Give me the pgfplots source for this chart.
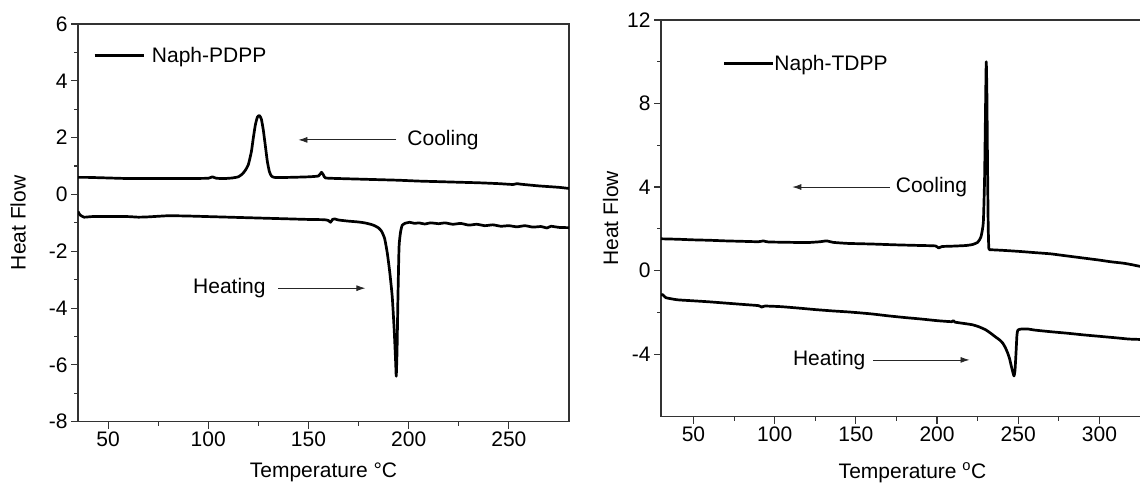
\documentclass[border=0pt]{standalone}
\usepackage{pgfplots}
\pgfplotsset{compat=1.18}
\usepackage{fontspec}
\setmainfont{Liberation Sans}
\usetikzlibrary{arrows.meta}
\newcommand{\fs}{\fontsize{21}{25}\selectfont}
\tikzset{arr/.style={-{Latex[length=9pt,width=6pt]}, line width=0.8pt, black!85}}
\pgfplotsset{
  dsc/.style={
    scale only axis,
    anchor=south west,
    font=\fs,
    tick label style={font=\fs},
    label style={font=\fs},
    /pgf/number format/assume math mode=true,
    tick align=outside, xtick pos=bottom, ytick pos=left,
    major tick length=7pt, minor tick length=4pt,
    axis line style={line width=1.3pt, black!80},
    every tick/.style={line width=1.1pt, black!80},
    minor x tick num=1, minor y tick num=1,
    legend image code/.code={\draw[##1] (0pt,0pt) -- (49pt,0pt);},
    legend style={draw=none, fill=none, inner sep=0pt, nodes={inner sep=0pt, font=\fs}, anchor=west},
  },
  crv/.style={black, line width=2.7pt, line join=round, smooth, tension=0.3, mark=none},
}
\begin{document}
\begin{tikzpicture}
\useasboundingbox (0,0) rectangle (1140pt,487pt);
% ---------------- left panel ----------------
\begin{axis}[dsc,
  at={(78pt,65.3pt)}, width=491pt, height=397.7pt,
  xmin=35, xmax=280, ymin=-8, ymax=6,
  xtick={50,100,...,250}, ytick={-8,-6,...,6},
  xlabel={Temperature °C}, ylabel={Heat Flow},
  ylabel shift=16pt, xlabel shift=9pt,
  legend style={at={(axis cs:42.5,4.88)}, column sep=7pt},
]
\addplot[crv] coordinates {
(35,0.60)(40,0.60)(50,0.58)(60,0.56)(70,0.56)(80,0.56)(90,0.56)(100,0.57)(102,0.62)(104,0.57)
(108,0.56)(112,0.58)(115,0.62)(117,0.72)(118.5,0.85)(120,1.05)(121.5,1.5)(122.5,2.0)(123.5,2.45)
(124.5,2.72)(125.5,2.78)(126.5,2.65)(127.5,2.25)(128.5,1.7)(129.5,1.15)(130.5,0.8)(131.5,0.65)
(133,0.6)(140,0.6)(150,0.62)(155,0.65)(156.5,0.78)(157.5,0.68)(158.5,0.58)(165,0.56)(175,0.54)
(185,0.52)(195,0.5)(205,0.47)(215,0.45)(225,0.43)(235,0.41)(245,0.38)(252,0.35)(254,0.38)(256,0.36)
(265,0.3)(275,0.25)(280,0.21)};
\addlegendentry{Naph-PDPP}
\addplot[crv, forget plot] coordinates {
(35,-0.6)(36,-0.72)(38,-0.8)(42,-0.78)(50,-0.78)(60,-0.78)(65,-0.8)(70,-0.79)(80,-0.75)(90,-0.76)
(100,-0.78)(110,-0.8)(120,-0.82)(130,-0.84)(140,-0.86)(150,-0.88)(158,-0.89)(160,-0.92)(161,-0.98)
(162,-0.88)(163,-0.86)(165,-0.9)(170,-0.94)(175,-0.97)(178,-1.0)(181,-1.05)(183,-1.1)(185,-1.18)
(186.5,-1.3)(188,-1.55)(189.3,-2.05)(190.5,-2.7)(191.8,-3.6)(192.8,-4.8)(193.5,-5.9)(193.8,-6.4)
(194.2,-5.5)(194.6,-3.8)(195.2,-1.84)(196,-1.3)(196.8,-1.08)(198,-1.02)(200.5,-0.98)(203,-1.02)
(205,-1.0)(208,-1.04)(211,-1.0)(215,-1.03)(218,-1.0)(222,-1.05)(226,-1.02)(230,-1.08)(234,-1.05)
(238,-1.1)(242,-1.07)(246,-1.12)(250,-1.1)(254,-1.14)(258,-1.1)(262,-1.15)(266,-1.13)(269,-1.18)
(271,-1.12)(275,-1.16)(280,-1.17)};
\draw[arr] (axis cs:193.8,1.92) -- (axis cs:145,1.92);
\node[anchor=west, inner sep=0pt] at (axis cs:199.3,1.92) {Cooling};
\draw[arr] (axis cs:135,-3.30) -- (axis cs:178.4,-3.30);
\node[anchor=east, inner sep=0pt] at (axis cs:128.7,-3.30) {Heating};
\end{axis}
% ---------------- right panel ----------------
\begin{axis}[dsc,
  at={(661pt,70.3pt)}, width=479pt, height=396.7pt,
  axis y line*=left,
  xmin=30, xmax=325, ymin=-7, ymax=12,
  xtick={50,100,...,300}, ytick={-4,0,...,12},
  xlabel={Temperature \textsuperscript{o}C}, ylabel={Heat Flow},
  xlabel style={xshift=12pt},
  ylabel shift=2pt, xlabel shift=14pt,
  legend style={at={(axis cs:67.9,9.93)}, column sep=0pt},
]
\addplot[crv] coordinates {
(30,1.52)(40,1.5)(50,1.47)(60,1.45)(70,1.42)(80,1.4)(90,1.38)(93,1.42)(96,1.37)(110,1.35)(120,1.34)
(128,1.38)(132,1.42)(136,1.35)(145,1.3)(160,1.27)(175,1.23)(190,1.2)(199,1.18)(201,1.08)(203,1.15)
(210,1.17)(218,1.2)(222,1.25)(225,1.35)(227,1.6)(228.5,2.3)(229.3,4.5)(229.9,8)(230.3,10.0)
(230.7,8.5)(231.1,5)(231.5,2.2)(231.9,1.07)(233,1.0)(240,0.97)(250,0.92)(260,0.86)(270,0.8)
(275,0.75)(280,0.7)(287,0.63)(290,0.6)(300,0.5)(307,0.42)(315,0.35)(320,0.28)(325,0.2)};
\addlegendentry{Naph-TDPP}
\addplot[crv, forget plot] coordinates {
(30,-1.17)(31,-1.15)(33,-1.3)(40,-1.4)(50,-1.45)(60,-1.5)(70,-1.56)(80,-1.62)(90,-1.68)(92,-1.75)
(94,-1.7)(104,-1.73)(115,-1.8)(125,-1.87)(135,-1.93)(145,-1.98)(153,-2.03)(160,-2.08)(170,-2.17)
(180,-2.25)(190,-2.32)(200,-2.4)(209,-2.45)(210,-2.4)(211,-2.47)(218,-2.55)(222,-2.6)(226,-2.7)
(230,-2.84)(233,-3.0)(236,-3.18)(238.5,-3.32)(240.5,-3.48)(242,-3.68)(243.5,-3.95)(244.6,-4.2)
(245.8,-4.6)(246.8,-4.9)(247.4,-5.05)(248,-4.8)(248.6,-4)(249.2,-3.1)(249.8,-2.85)(252,-2.8)
(256,-2.8)(260,-2.85)(270,-2.93)(280,-3.0)(290,-3.08)(300,-3.15)(310,-3.22)(318,-3.28)(325,-3.3)};
\draw[arr] (axis cs:170.8,4) -- (axis cs:110.9,4);
\node[anchor=west, inner sep=0pt] at (axis cs:174.5,4) {Cooling};
\draw[arr] (axis cs:160.7,-4.28) -- (axis cs:220,-4.28);
\node[anchor=east, inner sep=0pt] at (axis cs:156,-4.28) {Heating};
\end{axis}
\end{tikzpicture}
\end{document}
